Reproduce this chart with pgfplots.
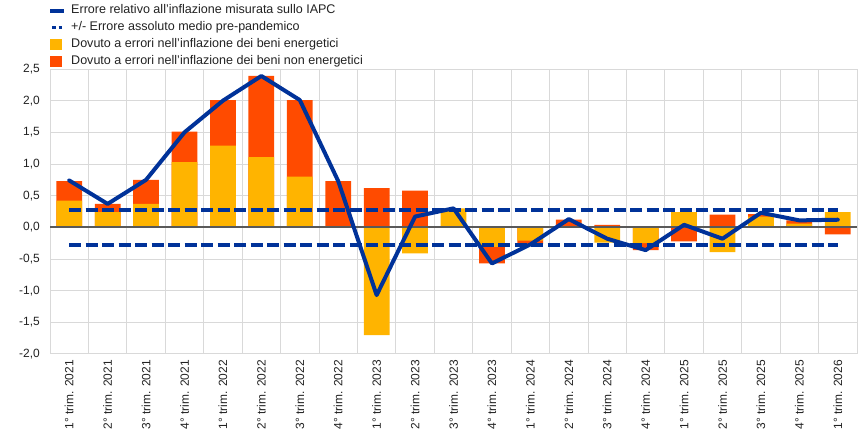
\documentclass[border=0pt]{standalone}
\usepackage{pgfplots}
\pgfplotsset{compat=1.18}
\usepackage{pgfplotstable}
\usepackage{fontspec}
\setmainfont{Liberation Sans}
\definecolor{ecbblue}{HTML}{003299}
\definecolor{ecbyellow}{HTML}{FFB400}
\definecolor{ecborange}{HTML}{FF4B00}
\definecolor{gridgray}{HTML}{D9D9D9}
\definecolor{zerogray}{HTML}{595959}
\definecolor{txtgray}{HTML}{222222}

% E = energy contribution (yellow), O = extent of non-energy (orange) bar, L = total error (line)
\pgfplotstableread{
x E O L
0 0.42 0.73 0.74
1 0.24 0.37 0.37
2 0.37 0.75 0.75
3 1.03 1.51 1.50
4 1.29 2.01 2.00
5 1.11 2.39 2.39
6 0.80 2.01 2.01
7 0.00 0.73 0.73
8 -1.70 0.62 -1.07
9 -0.41 0.58 0.17
10 0.30 0.00 0.30
11 -0.31 -0.57 -0.57
12 -0.21 -0.26 -0.27
13 0.00 0.12 0.13
14 -0.24 0.04 -0.18
15 -0.25 -0.36 -0.36
16 0.24 -0.22 0.04
17 -0.39 0.20 -0.18
18 0.17 0.21 0.23
19 0.06 0.11 0.11
20 0.24 -0.11 0.12
}\data

\begin{document}
\begin{tikzpicture}
\begin{axis}[
  at={(50bp,83bp)}, anchor=south west,
  scale only axis, width=807bp, height=285bp,
  xmin=-0.5, xmax=20.5, ymin=-2, ymax=2.5,
  xtick={0,...,20},
  xticklabels={1° trim. 2021,2° trim. 2021,3° trim. 2021,4° trim. 2021,
    1° trim. 2022,2° trim. 2022,3° trim. 2022,4° trim. 2022,
    1° trim. 2023,2° trim. 2023,3° trim. 2023,4° trim. 2023,
    1° trim. 2024,2° trim. 2024,3° trim. 2024,4° trim. 2024,
    1° trim. 2025,2° trim. 2025,3° trim. 2025,4° trim. 2025,
    1° trim. 2026},
  minor xtick={-0.5,0.5,...,20.5},
  ytick={-2,-1.5,-1,-0.5,0,0.5,1,1.5,2,2.5},
  yticklabels={{-2,0},{-1,5},{-1,0},{-0,5},{0,0},{0,5},{1,0},{1,5},{2,0},{2,5}},
  xminorgrids, ymajorgrids, xmajorgrids=false,
  minor grid style={draw=gridgray, line width=1bp},
  major grid style={draw=gridgray, line width=1bp},
  major tick length=0pt, minor tick length=0pt,
  axis line style={draw=none},
  tick label style={font=\fontsize{12}{14}\selectfont, text=txtgray},
  xticklabel style={rotate=90, anchor=east, inner sep=0pt, xshift=-6bp},
  yticklabel style={anchor=east, inner sep=0pt, xshift=-10bp},
  legend style={at={(axis description cs:0,1)}, anchor=south west,
    xshift=-2bp, yshift=0.5bp, draw=none, fill=none, inner sep=0pt,
    row sep=3.4bp, font=\fontsize{12.6}{14}\selectfont,
    nodes={inner sep=1bp, text height=9bp, text depth=2.6bp, text=txtgray}},
  legend cell align=left,
]
\addlegendimage{legend image code/.code={\path[draw=none,fill=none] (0bp,0bp) -- (20bp,0bp); \draw[ecbblue, line width=4bp] (0bp,0bp) -- (14bp,0bp);}}
\addlegendentry{Errore relativo all'inflazione misurata sullo IAPC}
\addlegendimage{legend image code/.code={\path[draw=none,fill=none] (0bp,0bp) -- (20bp,0bp); \draw[ecbblue, line width=3.5bp, dash pattern=on 3.5bp off 3bp] (2bp,0bp) -- (12bp,0bp);}}
\addlegendentry{+/- Errore assoluto medio pre-pandemico}
\addlegendimage{legend image code/.code={\path[draw=none,fill=none] (0bp,0bp) -- (20bp,0bp); \fill[ecbyellow] (0bp,-5bp) rectangle (10.5bp,5.5bp);}}
\addlegendentry{Dovuto a errori nell'inflazione dei beni energetici}
\addlegendimage{legend image code/.code={\path[draw=none,fill=none] (0bp,0bp) -- (20bp,0bp); \fill[ecborange] (0bp,-5bp) rectangle (10.5bp,5.5bp);}}
\addlegendentry{Dovuto a errori nell'inflazione dei beni non energetici}

\addplot[ybar, bar width=0.67, bar shift=0pt, fill=ecborange, draw=none, forget plot] table[x=x, y=O] {\data};
\addplot[ybar, bar width=0.67, bar shift=0pt, fill=ecbyellow, draw=none, forget plot] table[x=x, y=E] {\data};
\draw[zerogray, line width=2bp] (axis cs:-0.5,0) -- (axis cs:20.5,0);
\addplot[ecbblue, line width=3.7bp, dash pattern=on 12bp off 4.5bp, forget plot] coordinates {(0,0.27) (20,0.27)};
\addplot[ecbblue, line width=3.7bp, dash pattern=on 12bp off 4.5bp, forget plot] coordinates {(0,-0.28) (20,-0.28)};
\addplot[ecbblue, line width=4bp, line join=round, line cap=round, forget plot] table[x=x, y=L] {\data};
\end{axis}
\pgfresetboundingbox
\path[use as bounding box] (0,0) rectangle (868bp,437bp);
\end{tikzpicture}
\end{document}
